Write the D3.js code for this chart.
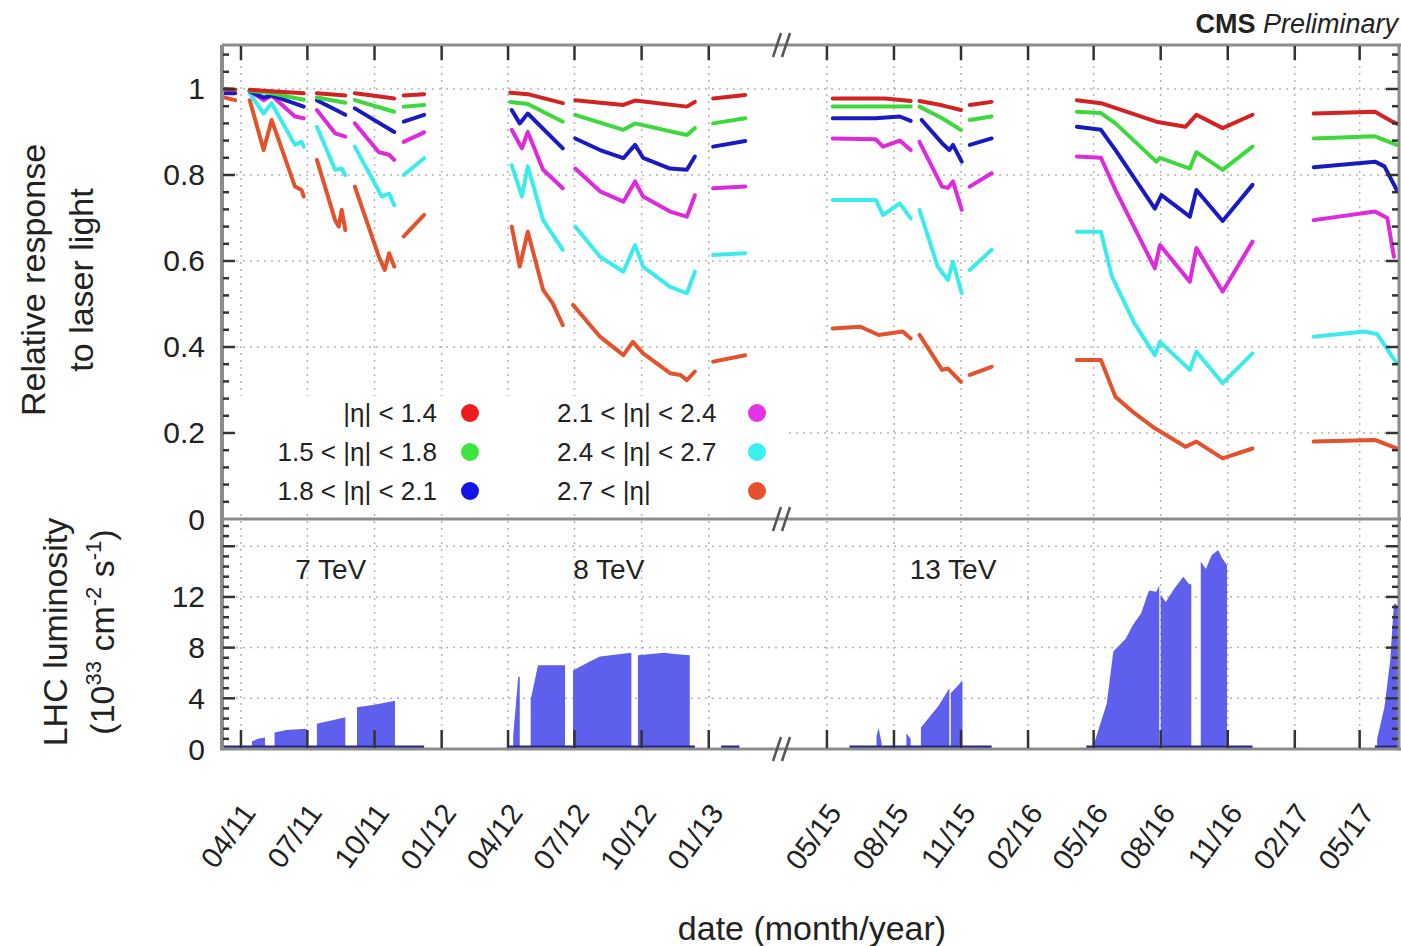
<!DOCTYPE html>
<html>
<head>
<meta charset="utf-8">
<script src="https://cdn.jsdelivr.net/npm/d3@7"></script>
<style>
body{margin:0;background:#fff}
svg text{font-family:"Liberation Sans",Arial,sans-serif;fill:#222}
</style>
</head>
<body>
<div id="chart"></div>
<script>
// legend labels, one per eta ring
const etaLabels = ['|η| < 1.4','1.5 < |η| < 1.8','1.8 < |η| < 2.1','2.1 < |η| < 2.4','2.4 < |η| < 2.7','2.7 < |η|']

// relative response to laser light, [date, value], split in runs
const respRed = [
	[['2011-03-10',1.0],['2011-03-24',0.998]],
	[['2011-04-13',0.998],['2011-05-13',0.995],['2011-06-26',0.99]],
	[['2011-07-14',0.99],['2011-08-22',0.985]],
	[['2011-09-04',0.99],['2011-10-11',0.982],['2011-10-28',0.978]],
	[['2011-11-10',0.985],['2011-12-08',0.988]],
	[['2012-04-04',0.991],['2012-04-28',0.988],['2012-06-15',0.967]],
	[['2012-07-02',0.974],['2012-09-06',0.963],['2012-09-22',0.973],['2012-12-02',0.959],['2012-12-13',0.97]],
	[['2013-01-07',0.978],['2013-02-20',0.986]],
	[['2015-05-09',0.978],['2015-07-20',0.978],['2015-08-24',0.972]],
	[['2015-09-05',0.972],['2015-10-06',0.962],['2015-11-01',0.951]],
	[['2015-11-13',0.963],['2015-12-13',0.97]],
	[['2016-04-08',0.974],['2016-05-11',0.967],['2016-07-26',0.924],['2016-09-04',0.912],['2016-09-19',0.94],['2016-10-25',0.909],['2016-12-05',0.94]],
	[['2017-02-27',0.943],['2017-05-22',0.947],['2017-06-15',0.924],['2017-06-23',0.918]]
]
const respGreen = [
	[['2011-04-13',0.996],['2011-05-13',0.99],['2011-06-26',0.975]],
	[['2011-07-14',0.98],['2011-08-22',0.968]],
	[['2011-09-04',0.974],['2011-10-28',0.947]],
	[['2011-11-10',0.959],['2011-12-08',0.963]],
	[['2012-04-04',0.97],['2012-04-28',0.965],['2012-06-15',0.924]],
	[['2012-07-02',0.94],['2012-09-06',0.905],['2012-09-22',0.92],['2012-12-02',0.893],['2012-12-13',0.909]],
	[['2013-01-07',0.92],['2013-02-20',0.932]],
	[['2015-05-09',0.959],['2015-08-24',0.959]],
	[['2015-09-05',0.959],['2015-10-06',0.932],['2015-11-01',0.905]],
	[['2015-11-13',0.928],['2015-12-13',0.936]],
	[['2016-04-08',0.947],['2016-05-11',0.944],['2016-05-31',0.92],['2016-07-26',0.831],['2016-07-31',0.84],['2016-09-10',0.815],['2016-09-19',0.853],['2016-10-25',0.812],['2016-12-05',0.866]],
	[['2017-02-27',0.885],['2017-05-22',0.89],['2017-06-21',0.87]]
]
const respBlue = [
	[['2011-03-10',0.99],['2011-03-24',0.99]],
	[['2011-04-13',0.995],['2011-05-02',0.98],['2011-05-13',0.985],['2011-06-26',0.959]],
	[['2011-07-14',0.974],['2011-08-22',0.94]],
	[['2011-09-04',0.955],['2011-10-28',0.9]],
	[['2011-11-10',0.924],['2011-12-08',0.94]],
	[['2012-04-06',0.951],['2012-04-17',0.92],['2012-04-28',0.943],['2012-06-15',0.862]],
	[['2012-07-02',0.885],['2012-08-05',0.858],['2012-09-06',0.839],['2012-09-22',0.87],['2012-10-03',0.84],['2012-11-09',0.815],['2012-12-02',0.812],['2012-12-13',0.843]],
	[['2013-01-07',0.866],['2013-02-20',0.879]],
	[['2015-05-09',0.932],['2015-07-07',0.932],['2015-08-09',0.936],['2015-08-24',0.926]],
	[['2015-09-08',0.928],['2015-10-06',0.874],['2015-10-16',0.858],['2015-10-21',0.87],['2015-11-02',0.831]],
	[['2015-11-13',0.87],['2015-12-13',0.885]],
	[['2016-04-08',0.912],['2016-05-11',0.905],['2016-05-31',0.858],['2016-07-24',0.722],['2016-08-02',0.753],['2016-09-10',0.703],['2016-09-19',0.765],['2016-10-25',0.693],['2016-12-05',0.777]],
	[['2017-02-27',0.818],['2017-05-22',0.831],['2017-06-04',0.82],['2017-06-21',0.765]]
]
const respMagenta = [
	[['2011-04-13',0.995],['2011-05-02',0.974],['2011-05-13',0.985],['2011-06-14',0.936],['2011-06-26',0.932]],
	[['2011-07-14',0.951],['2011-08-08',0.897],['2011-08-22',0.889]],
	[['2011-09-04',0.92],['2011-10-07',0.853],['2011-10-21',0.847],['2011-10-28',0.835]],
	[['2011-11-10',0.877],['2011-12-08',0.899]],
	[['2012-04-06',0.905],['2012-04-20',0.862],['2012-04-28',0.9],['2012-05-19',0.812],['2012-06-15',0.769]],
	[['2012-07-02',0.815],['2012-08-05',0.762],['2012-09-06',0.738],['2012-09-22',0.785],['2012-10-03',0.75],['2012-11-09',0.715],['2012-12-02',0.703],['2012-12-13',0.753]],
	[['2013-01-07',0.769],['2013-02-20',0.773]],
	[['2015-05-09',0.885],['2015-07-07',0.883],['2015-07-17',0.866],['2015-08-09',0.88],['2015-08-24',0.858]],
	[['2015-09-05',0.877],['2015-10-06',0.773],['2015-10-14',0.77],['2015-10-21',0.785],['2015-11-02',0.719]],
	[['2015-11-13',0.773],['2015-12-13',0.804]],
	[['2016-04-08',0.843],['2016-05-11',0.84],['2016-05-31',0.765],['2016-07-24',0.583],['2016-07-31',0.637],['2016-09-10',0.552],['2016-09-19',0.63],['2016-10-25',0.529],['2016-12-05',0.645]],
	[['2017-02-27',0.695],['2017-05-22',0.715],['2017-06-08',0.70],['2017-06-17',0.61]]
]
const respCyan = [
	[['2011-04-13',0.99],['2011-05-02',0.943],['2011-05-13',0.967],['2011-06-14',0.87],['2011-06-23',0.877],['2011-06-26',0.866]],
	[['2011-07-14',0.912],['2011-08-08',0.812],['2011-08-17',0.815],['2011-08-22',0.8]],
	[['2011-09-04',0.866],['2011-10-11',0.75],['2011-10-21',0.757],['2011-10-28',0.73]],
	[['2011-11-10',0.8],['2011-12-08',0.839]],
	[['2012-04-06',0.823],['2012-04-20',0.75],['2012-04-28',0.82],['2012-05-19',0.695],['2012-06-15',0.626]],
	[['2012-07-02',0.68],['2012-08-05',0.61],['2012-09-06',0.575],['2012-09-22',0.637],['2012-10-03',0.587],['2012-11-09',0.54],['2012-12-02',0.525],['2012-12-13',0.575]],
	[['2013-01-07',0.614],['2013-02-20',0.618]],
	[['2015-05-09',0.742],['2015-07-07',0.742],['2015-07-17',0.707],['2015-08-09',0.734],['2015-08-24',0.699]],
	[['2015-09-05',0.719],['2015-09-30',0.587],['2015-10-14',0.556],['2015-10-21',0.598],['2015-11-02',0.525]],
	[['2015-11-13',0.579],['2015-12-13',0.626]],
	[['2016-04-08',0.668],['2016-05-11',0.668],['2016-05-26',0.564],['2016-06-26',0.455],['2016-07-24',0.381],['2016-07-31',0.412],['2016-09-10',0.347],['2016-09-19',0.389],['2016-10-25',0.316],['2016-12-05',0.385]],
	[['2017-02-27',0.424],['2017-05-07',0.436],['2017-05-25',0.43],['2017-06-21',0.362]]
]
const respOrange = [
	[['2011-03-10',0.98],['2011-03-24',0.974]],
	[['2011-04-13',0.974],['2011-05-02',0.858],['2011-05-13',0.928],['2011-06-14',0.773],['2011-06-23',0.765],['2011-06-26',0.75]],
	[['2011-07-14',0.835],['2011-08-08',0.695],['2011-08-13',0.68],['2011-08-17',0.719],['2011-08-22',0.672]],
	[['2011-09-04',0.773],['2011-10-07',0.61],['2011-10-15',0.579],['2011-10-21',0.618],['2011-10-28',0.587]],
	[['2011-11-10',0.657],['2011-12-08',0.707]],
	[['2012-04-06',0.68],['2012-04-17',0.587],['2012-04-28',0.668],['2012-05-19',0.533],['2012-06-01',0.502],['2012-06-15',0.451]],
	[['2012-06-29',0.498],['2012-08-05',0.424],['2012-09-06',0.381],['2012-09-19',0.412],['2012-10-03',0.385],['2012-11-09',0.339],['2012-11-23',0.335],['2012-12-02',0.323],['2012-12-13',0.343]],
	[['2013-01-07',0.366],['2013-02-20',0.381]],
	[['2015-05-09',0.443],['2015-06-16',0.447],['2015-07-11',0.428],['2015-08-13',0.436],['2015-08-24',0.42]],
	[['2015-09-05',0.428],['2015-10-06',0.347],['2015-10-14',0.35],['2015-11-01',0.319]],
	[['2015-11-13',0.335],['2015-12-13',0.354]],
	[['2016-04-08',0.37],['2016-05-11',0.37],['2016-05-31',0.284],['2016-06-26',0.246],['2016-07-24',0.211],['2016-09-04',0.168],['2016-09-19',0.18],['2016-10-25',0.141],['2016-12-05',0.164]],
	[['2017-02-27',0.18],['2017-05-22',0.184],['2017-06-21',0.164]]
]

// LHC peak luminosity (1e33 cm-2 s-1), [date, value], one block per running period
const lumiBlocks = [
	[['2011-04-16',0.6],['2011-04-24',0.8],['2011-05-04',0.9]],
	[['2011-05-17',1.3],['2011-06-02',1.5],['2011-06-30',1.6]],
	[['2011-07-14',2.0],['2011-08-22',2.5]],
	[['2011-09-07',3.3],['2011-10-01',3.5],['2011-10-29',3.8]],
	[['2012-04-08',1.0],['2012-04-15',5.7],['2012-04-17',5.7]],
	[['2012-05-02',3.9],['2012-05-12',6.6],['2012-06-18',6.6]],
	[['2012-06-29',6.2],['2012-07-22',6.9],['2012-08-05',7.3],['2012-09-17',7.6]],
	[['2012-09-26',7.4],['2012-11-01',7.6],['2012-11-15',7.5],['2012-12-06',7.4]],
	[['2015-07-08',1.0],['2015-07-11',1.65],['2015-07-15',0.5]],
	[['2015-08-18',1.25],['2015-08-24',0.8]],
	[['2015-09-07',1.7],['2015-10-01',3.4],['2015-10-16',4.8]],
	[['2015-10-18',4.4],['2015-11-03',5.4]],
	[['2016-05-02',0.5],['2016-05-19',3.6],['2016-05-28',7.7],['2016-06-14',8.7],['2016-06-24',9.8],['2016-07-05',10.7],['2016-07-16',12.5],['2016-07-26',12.4],['2016-07-30',12.9]],
	[['2016-08-01',12.2],['2016-08-08',11.6],['2016-08-19',12.6],['2016-09-01',13.6],['2016-09-09',13.0],['2016-09-12',13.0]],
	[['2016-09-25',14.8],['2016-10-02',14.2],['2016-10-10',15.3],['2016-10-19',15.7],['2016-10-24',15.1],['2016-10-31',14.5]],
	[['2017-05-25',0.8],['2017-06-04',3.3],['2017-06-12',7.0],['2017-06-17',11.5],['2017-06-23',11.3]]
]
// periods with beam (dark strip at zero luminosity)
const beamPeriods = [
	['2011-03-08','2011-12-08'],['2012-04-01','2012-12-13'],['2013-01-18','2013-02-12'],
	['2015-06-01','2015-12-13'],['2016-04-21','2016-12-05'],['2017-05-22','2017-06-23']
]

const xTickDates = ['2011-04-01','2011-07-01','2011-10-01','2012-01-01','2012-04-01','2012-07-01','2012-10-01','2013-01-01',
	'2015-05-01','2015-08-01','2015-11-01','2016-02-01','2016-05-01','2016-08-01','2016-11-01','2017-02-01','2017-05-01']
const respTicks = [0,0.2,0.4,0.6,0.8,1]
const lumiTicks = [0,4,8,12,16]
const energyLabels = [['7 TeV','2011-08-02'],['8 TeV','2012-08-17'],['13 TeV','2015-10-21']]

const seriesColors = ['#d42222','#3cd83c','#1a1ac4','#dc2adc','#3cecec','#e2522c']
const dotColors = ['#ee1c1c','#3ce63c','#1414e6','#e632e6','#3cf0f0','#e6502d']

const parse = d3.timeParse('%Y-%m-%d')
const width = 1401, height = 946
const left = 222, right = 1399, topY = 45, midY = 519, botY = 749
const breakX = 781

const svg = d3.select('#chart').append('svg')
	.attr('width',width).attr('height',height)
svg.append('rect').attr('width',width).attr('height',height).attr('fill','#fff')

// broken time axis: the 2013-2015 shutdown is collapsed at the break
const x = d3.scaleTime()
	.domain([parse('2011-03-06'),parse('2013-04-10'),parse('2015-02-27'),parse('2017-06-24')])
	.range([left,breakX,breakX,right])
const yTop = d3.scaleLinear().domain([0,1.1023]).range([midY,topY])
const yBot = d3.scaleLinear().domain([0,18.15]).range([botY,midY])

//grid
const grid = svg.append('g').attr('stroke','#b4b4b4').attr('stroke-width',1.5).attr('stroke-dasharray','2,5')
grid.selectAll('.gy1').data(respTicks.filter(d => d > 0)).enter().append('line')
	.attr('x1',left).attr('x2',right).attr('y1',d => yTop(d)).attr('y2',d => yTop(d))
grid.selectAll('.gy2').data(lumiTicks.filter(d => d > 0)).enter().append('line')
	.attr('x1',left).attr('x2',right).attr('y1',d => yBot(d)).attr('y2',d => yBot(d))
grid.selectAll('.gx').data(xTickDates).enter().append('line')
	.attr('x1',d => x(parse(d))).attr('x2',d => x(parse(d)))
	.attr('y1',topY).attr('y2',botY)

// luminosity
const area = d3.area()
	.x(function(d){return x(parse(d[0]))})
	.y0(yBot(0))
	.y1(function(d){return yBot(d[1])})
svg.append('g').selectAll('path').data(lumiBlocks).enter().append('path')
	.attr('d',area).attr('fill','#5f5fee')
svg.append('g').selectAll('rect').data(beamPeriods).enter().append('rect')
	.attr('x',d => x(parse(d[0]))).attr('width',d => x(parse(d[1])) - x(parse(d[0])))
	.attr('y',botY - 3.5).attr('height',3).attr('fill','#26268c')

// response curves
const line = d3.line()
	.x(function(d){return x(parse(d[0]))})
	.y(function(d){return yTop(d[1])})
const allSeries = [respRed,respGreen,respBlue,respMagenta,respCyan,respOrange]
for(let i = allSeries.length - 1; i >= 0; i--){
	svg.append('g').selectAll('path').data(allSeries[i]).enter().append('path')
		.attr('d',line)
		.attr('fill','none')
		.attr('stroke',seriesColors[i])
		.attr('stroke-width',4)
		.attr('stroke-linejoin','round')
		.attr('stroke-linecap','round')
}

// legend
svg.append('rect').attr('x',226).attr('y',396).attr('width',562).attr('height',116).attr('fill','#fff')
const legRowY = [413,452,491]
const leg = svg.append('g').attr('font-size',26)
etaLabels.forEach((lab,i) => {
	const col = i < 3 ? 0 : 1
	const ry = legRowY[i % 3]
	leg.append('text')
		.attr('x',col === 0 ? 437 : 557).attr('y',ry)
		.attr('dy','0.35em')
		.attr('text-anchor',col === 0 ? 'end' : 'start')
		.text(lab)
	leg.append('circle')
		.attr('cx',col === 0 ? 470 : 757).attr('cy',ry).attr('r',9)
		.attr('fill',dotColors[i])
})

// frame
const frame = svg.append('g').attr('stroke','#8c8c8c').attr('stroke-width',3)
frame.append('line').attr('x1',left).attr('x2',right + 2).attr('y1',topY).attr('y2',topY)
frame.append('line').attr('x1',left).attr('x2',right + 2).attr('y1',midY).attr('y2',midY)
frame.append('line').attr('x1',left).attr('x2',right + 2).attr('y1',botY).attr('y2',botY)
frame.append('line').attr('x1',left).attr('x2',left).attr('y1',topY).attr('y2',botY + 1.5).attr('stroke-width',4)
frame.append('line').attr('x1',right).attr('x2',right).attr('y1',topY).attr('y2',botY + 1.5)

// y ticks, inside on both sides
const tk = svg.append('g').attr('stroke','#333').attr('stroke-width',2.5)
function yTickMarks(scale,maxV,step,majorEvery){
	const n = Math.floor(maxV / step + 1e-6)
	for(let k = 1; k <= n; k++){
		const yy = scale(k * step)
		const len = (k % majorEvery === 0) ? 12 : 6
		tk.append('line').attr('x1',left + 1).attr('x2',left + 1 + len).attr('y1',yy).attr('y2',yy)
		tk.append('line').attr('x1',right - 1).attr('x2',right - 1 - len).attr('y1',yy).attr('y2',yy)
	}
}
yTickMarks(yTop,1.09,0.04,5)
yTickMarks(yBot,18,0.8,5)

// x ticks top and bottom
xTickDates.forEach(d => {
	const xx = x(parse(d))
	tk.append('line').attr('x1',xx).attr('x2',xx).attr('y1',topY + 1).attr('y2',topY + 15)
	tk.append('line').attr('x1',xx).attr('x2',xx).attr('y1',botY - 1).attr('y2',botY - 19)
})

// axis break marks
const brk = svg.append('g').attr('stroke','#555').attr('stroke-width',2.5)
;[topY,midY,botY].forEach(yy => {
	brk.append('line').attr('x1',breakX - 8).attr('y1',yy + 12).attr('x2',breakX).attr('y2',yy - 12)
	brk.append('line').attr('x1',breakX + 1).attr('y1',yy + 12).attr('x2',breakX + 9).attr('y2',yy - 12)
})

// tick labels
const fmt = d3.timeFormat('%m/%y')
svg.append('g').attr('font-size',30).selectAll('text').data(respTicks).enter().append('text')
	.attr('x',205).attr('y',d => yTop(d)).attr('dy','0.35em').attr('text-anchor','end')
	.text(d => d)
svg.append('g').attr('font-size',30).selectAll('text').data(lumiTicks.filter(d => d < 16)).enter().append('text')
	.attr('x',205).attr('y',d => yBot(d)).attr('dy','0.35em').attr('text-anchor','end')
	.text(d => d)
svg.append('g').attr('font-size',29).selectAll('text').data(xTickDates).enter().append('text')
	.attr('text-anchor','end')
	.attr('transform',d => `translate(${x(parse(d)) - 1},${801}) rotate(-54)`)
	.attr('dy','0.72em')
	.text(d => fmt(parse(d)))

// energy labels
svg.append('g').attr('font-size',28).selectAll('text').data(energyLabels).enter().append('text')
	.attr('x',d => x(parse(d[1]))).attr('y',579).attr('text-anchor','middle')
	.text(d => d[0])

// axis titles
svg.append('text').attr('font-size',34).attr('text-anchor','middle')
	.attr('x',812).attr('y',940).text('date (month/year)')
svg.append('text').attr('font-size',34).attr('text-anchor','middle')
	.attr('transform','translate(45,280) rotate(-90)').text('Relative response')
svg.append('text').attr('font-size',34).attr('text-anchor','middle')
	.attr('transform','translate(93,280) rotate(-90)').text('to laser light')
svg.append('text').attr('font-size',34).attr('text-anchor','middle')
	.attr('transform','translate(67,632) rotate(-90)').text('LHC luminosity')
const lt = svg.append('text').attr('font-size',34).attr('text-anchor','middle')
	.attr('transform','translate(114,632) rotate(-90)')
lt.append('tspan').text('(10')
lt.append('tspan').attr('dy',-13).attr('font-size',22).text('33')
lt.append('tspan').attr('dy',13).text(' cm')
lt.append('tspan').attr('dy',-13).attr('font-size',22).text('-2')
lt.append('tspan').attr('dy',13).text(' s')
lt.append('tspan').attr('dy',-13).attr('font-size',22).text('-1')
lt.append('tspan').attr('dy',13).text(')')

// CMS label
const cms = svg.append('text').attr('font-size',27).attr('text-anchor','end').attr('x',1398).attr('y',33)
cms.append('tspan').attr('font-weight','bold').text('CMS')
cms.append('tspan').attr('font-style','italic').text(' Preliminary')
</script>
</body>
</html>
